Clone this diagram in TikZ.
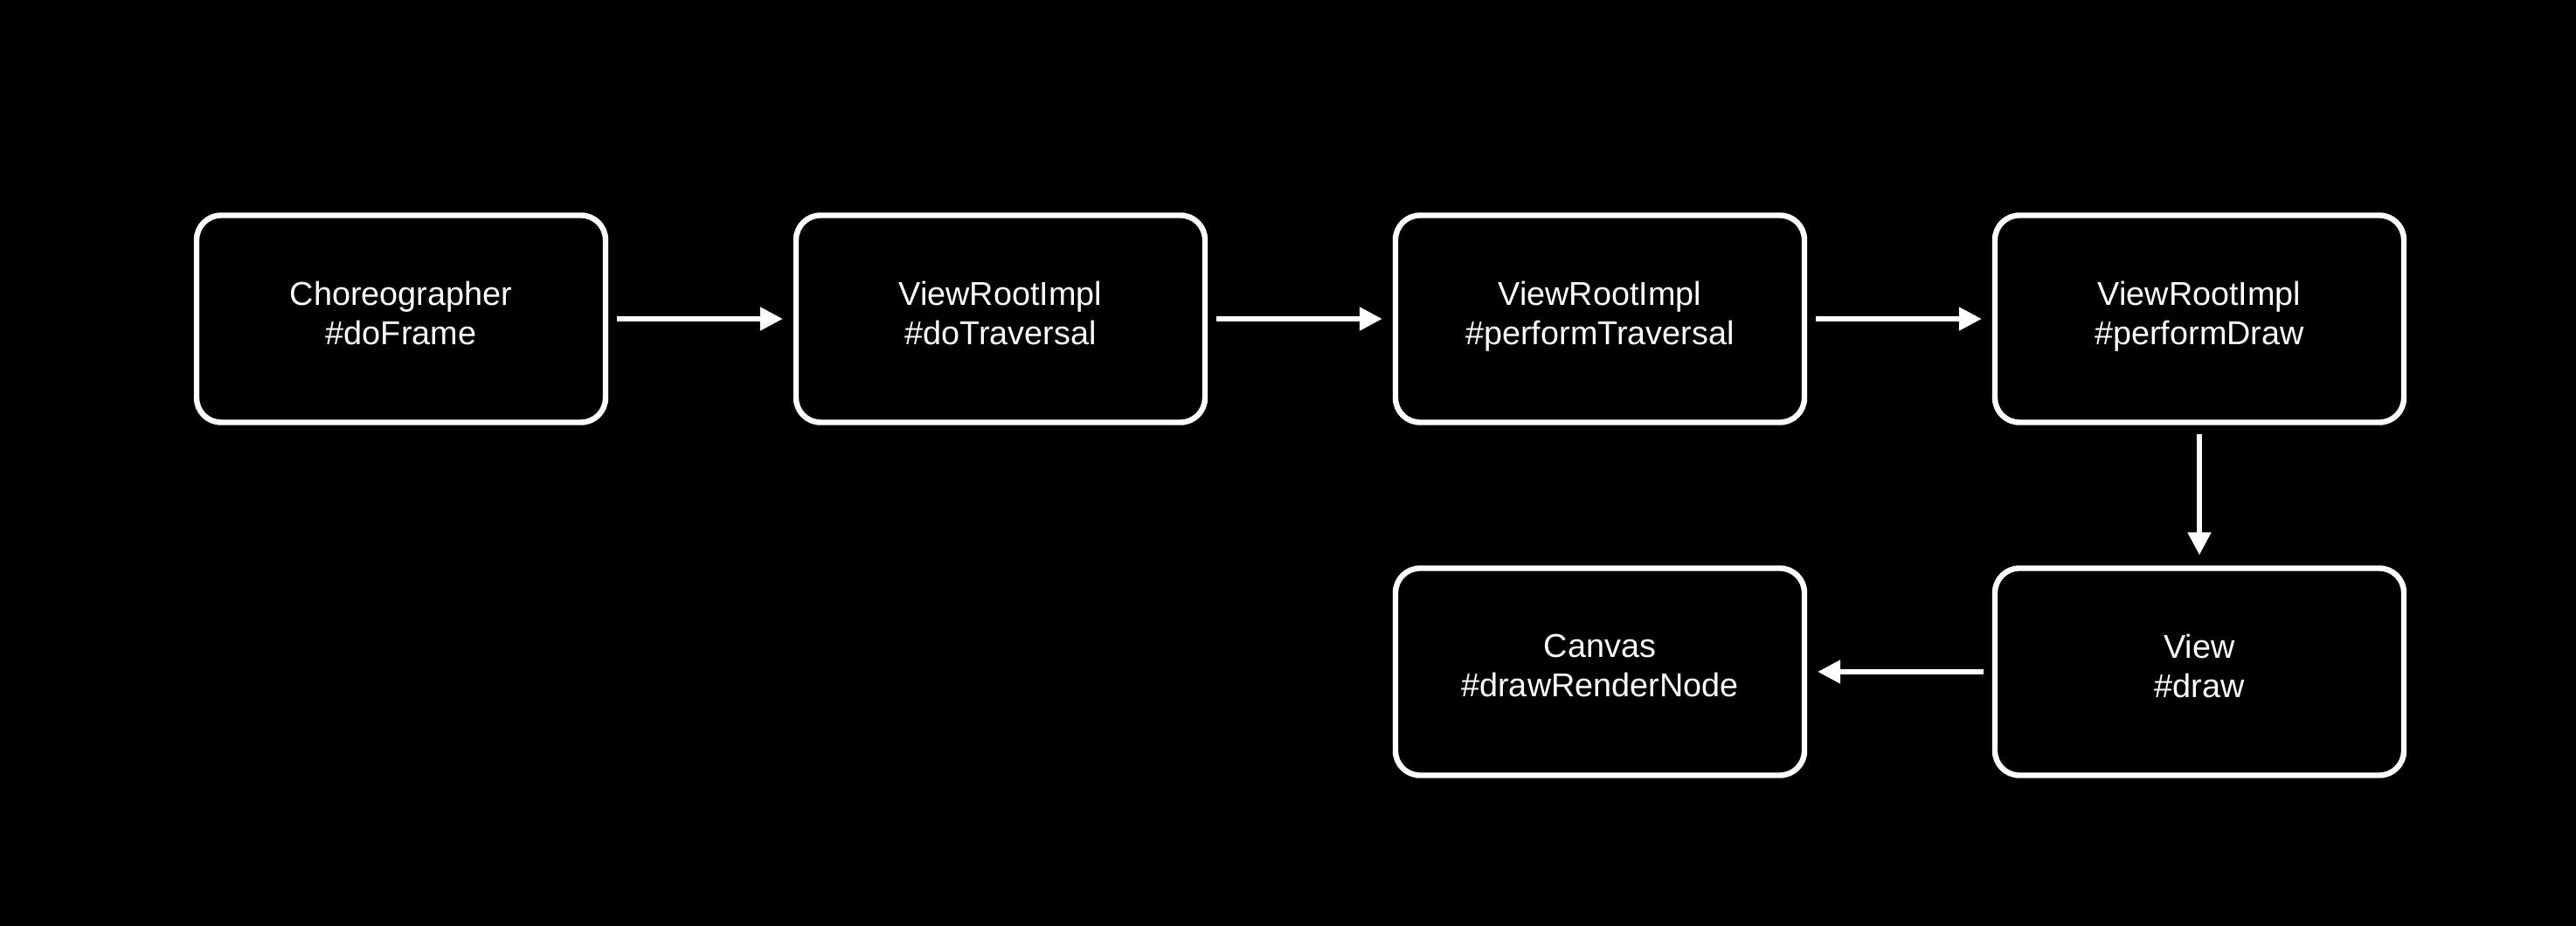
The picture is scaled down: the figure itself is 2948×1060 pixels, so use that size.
\documentclass[tikz,border=0pt]{standalone}
\usepackage{fontspec}
\setmainfont{Liberation Sans}
\usetikzlibrary{positioning,arrows.meta}

\begin{document}
\begin{tikzpicture}
            [
                x=0.25pt, y=-0.25pt,
                metodo/.style={rectangle, rounded corners=7pt, draw=white, line width=1.6pt,
                    minimum width=117pt, minimum height=59.25pt, align=center, text=white,
                    font=\fontsize{9.45pt}{11.25pt}\selectfont,
                    execute at begin node={\rule{0pt}{9.4pt}},
                    execute at end node={\rule[-3.4pt]{0pt}{3.4pt}}},
                chamada/.style={draw=white, line width=1.35pt, -{Triangle[length=6.5pt,width=6.5pt]},
                    shorten <=2.5pt, shorten >=3pt},
            ]
            % fundo
            \fill[black] (0,0) rectangle (2948,1060);
            \useasboundingbox (0,0) rectangle (2948,1060);
            % linha de cima
            \node[metodo] (doFrame) at (459,365) {Choreographer\\\#doFrame};
            \node[metodo] (doTraversal) at (1145,365) {ViewRootImpl\\\#doTraversal};
            \node[metodo] (performTraversal) at (1831,365) {ViewRootImpl\\\#performTraversal};
            \node[metodo] (performDraw) at (2517,365) {ViewRootImpl\\\#performDraw};
            % linha de baixo
            \node[metodo] (draw) at (2517,769) {View\\\#draw};
            \node[metodo] (drawRenderNode) at (1831,769) {Canvas\\\#drawRenderNode};
            % chamadas
            \draw[chamada] (doFrame) -- (doTraversal);
            \draw[chamada] (doTraversal) -- (performTraversal);
            \draw[chamada] (performTraversal) -- (performDraw);
            \draw[chamada] (performDraw) -- (draw);
            \draw[chamada] (draw) -- (drawRenderNode);
        \end{tikzpicture}
\end{document}
